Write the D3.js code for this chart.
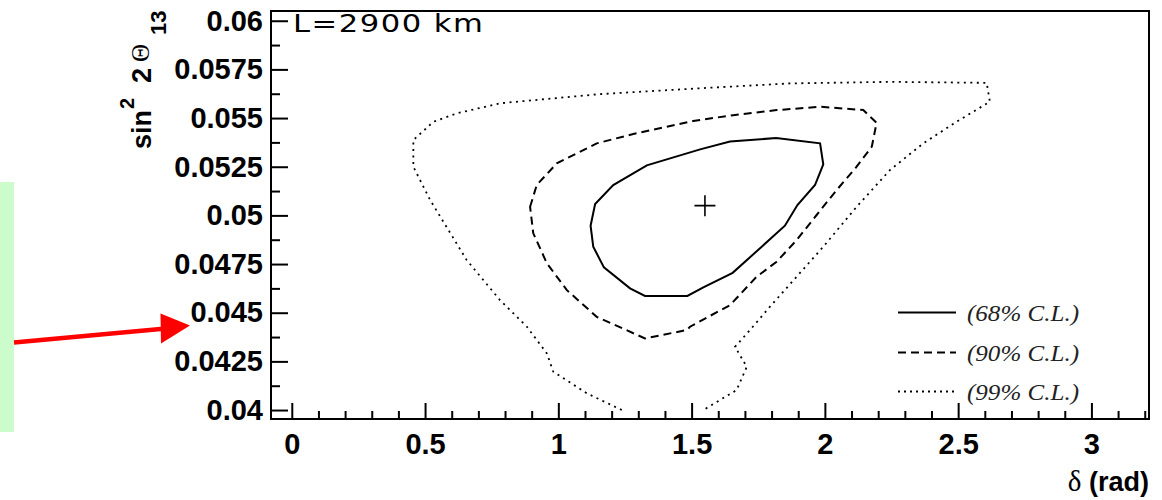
<!DOCTYPE html>
<html><head><meta charset="utf-8">
<script src="https://cdn.jsdelivr.net/npm/d3@7"></script>
<style>body{margin:0;background:#fff}svg{display:block}</style>
</head><body>
<svg id="c" width="1162" height="500"></svg>
<script>
// ---- data ----
const xTickValues = [0, 0.5, 1, 1.5, 2, 2.5, 3];
const xTickLabels = ["0", "0.5", "1", "1.5", "2", "2.5", "3"];
const xMinorValues = [0.1,0.2,0.3,0.4,0.6,0.7,0.8,0.9,1.1,1.2,1.3,1.4,1.6,1.7,1.8,1.9,2.1,2.2,2.3,2.4,2.6,2.7,2.8,2.9,3.1,3.2];
const yTickLabels = ["0.04","0.0425","0.045","0.0475","0.05","0.0525","0.055","0.0575","0.06"];
const yMinorLabels = ["0.04125","0.04375","0.04625","0.04875","0.05125","0.05375","0.05625","0.05875"];

const contour68 = [[1.121,0.04947],[1.138,0.05058],[1.206,0.05156],[1.332,0.05257],[1.532,0.05339],[1.644,0.05380],[1.817,0.05397],[1.982,0.05370],[1.994,0.05262],[1.963,0.05156],[1.897,0.05053],[1.850,0.04947],[1.763,0.04839],[1.654,0.04705],[1.544,0.04630],[1.484,0.04586],[1.325,0.04586],[1.269,0.04625],[1.171,0.04733],[1.131,0.04839]];
const contour90 = [[0.894,0.05044],[0.919,0.05156],[0.994,0.05267],[1.144,0.05370],[1.281,0.05418],[1.506,0.05485],[1.656,0.05515],[1.819,0.05541],[1.982,0.05558],[2.144,0.05541],[2.194,0.05476],[2.176,0.05353],[2.119,0.05250],[2.044,0.05130],[1.969,0.05002],[1.894,0.04873],[1.819,0.04762],[1.744,0.04685],[1.644,0.04539],[1.494,0.04428],[1.482,0.04411],[1.325,0.04368],[1.144,0.04479],[1.032,0.04616],[0.957,0.04754],[0.906,0.04908]];
const contour99 = [[1.238,0.04000],[1.107,0.04086],[0.981,0.04197],[0.957,0.04291],[0.882,0.04428],[0.781,0.04565],[0.656,0.04771],[0.519,0.05079],[0.456,0.05250],[0.456,0.05387],[0.531,0.05481],[0.619,0.05524],[0.781,0.05576],[1.156,0.05623],[1.532,0.05653],[1.869,0.05678],[2.244,0.05686],[2.607,0.05681],[2.619,0.05584],[2.494,0.05481],[2.369,0.05370],[2.244,0.05233],[2.119,0.05044],[1.994,0.04839],[1.894,0.04685],[1.794,0.04531],[1.719,0.04411],[1.663,0.04325],[1.707,0.04222],[1.669,0.04103],[1.544,0.04000]];
const bestFit = [1.55, 0.0505];
const legendLabels = ["(68% C.L.)", "(90% C.L.)", "(99% C.L.)"];

// ---- drawing ----
const svg = d3.select("#c");
const L = 271, R = 1149, T = 11, B = 419;
const x = d3.scaleLinear().domain([-0.078, 3.216]).range([L, R]);
const y = d3.scaleLinear().domain([0.03954, 0.0605]).range([B, T]);
const sans = "'Liberation Sans', Arial, Helvetica, sans-serif";

// annotation box and arrow
svg.append("rect").attr("x", 0).attr("y", 182).attr("width", 14).attr("height", 250).attr("fill", "#ccfccc");
svg.append("line").attr("x1", 14).attr("y1", 342.5).attr("x2", 166).attr("y2", 328.5)
  .attr("stroke", "#ff0000").attr("stroke-width", 4.5);
svg.append("path").attr("d", "M190,325.5 L160.5,313.5 L161,343.5 Z").attr("fill", "#ff0000");

// axes
const xAxis = svg.append("g").attr("transform", `translate(0,${B})`)
  .call(d3.axisBottom(x).tickValues(xTickValues).tickSize(-16).tickPadding(14)
    .tickFormat((d, i) => xTickLabels[i]));
const xMinor = svg.append("g").attr("transform", `translate(0,${B})`)
  .call(d3.axisBottom(x).tickValues(xMinorValues).tickSize(-8).tickFormat(""));
const yVals = yTickLabels.map(Number);
const yAxis = svg.append("g").attr("transform", `translate(${L},0)`)
  .call(d3.axisLeft(y).tickValues(yVals).tickSize(-17).tickPadding(8)
    .tickFormat((d, i) => yTickLabels[i]));
const yMinor = svg.append("g").attr("transform", `translate(${L},0)`)
  .call(d3.axisLeft(y).tickValues(yMinorLabels.map(Number)).tickSize(-9).tickFormat(""));
[xAxis, xMinor, yAxis, yMinor].forEach(g => {
  g.select(".domain").remove();
  g.selectAll(".tick line").attr("stroke", "#000").attr("stroke-width", 2);
  g.selectAll("text").attr("fill", "#000").attr("font-family", sans)
    .attr("font-weight", "bold").attr("font-size", 29);
});

// frame
svg.append("rect").attr("x", L).attr("y", T).attr("width", R - L).attr("height", B - T)
  .attr("fill", "none").attr("stroke", "#000").attr("stroke-width", 2);

// contours
const line = d3.line().x(d => x(d[0])).y(d => y(d[1]));
const lineClosed = d3.line().x(d => x(d[0])).y(d => y(d[1])).curve(d3.curveLinearClosed);
svg.append("path").attr("d", lineClosed(contour68)).attr("fill", "none")
  .attr("stroke", "#000").attr("stroke-width", 2);
svg.append("path").attr("d", lineClosed(contour90)).attr("fill", "none")
  .attr("stroke", "#000").attr("stroke-width", 2).attr("stroke-dasharray", "8,5");
svg.append("path").attr("d", line(contour99)).attr("fill", "none")
  .attr("stroke", "#000").attr("stroke-width", 1.8).attr("stroke-dasharray", "2,4.5");

// best fit marker
const bx = x(bestFit[0]), by = y(bestFit[1]);
svg.append("path").attr("d", `M${bx-10.5},${by}H${bx+10.5}M${bx},${by-10.5}V${by+10.5}`)
  .attr("stroke", "#000").attr("stroke-width", 1.6);

// label L=2900 km
svg.append("text").attr("transform", "translate(293,32) scale(1.25,1)")
  .attr("font-family", "'DejaVu Sans', sans-serif").attr("font-size", 24.5)
  .attr("letter-spacing", 1.2).attr("fill", "#000").text("L=2900 km");

// legend
const dashes = [null, "8,5", "2,4"];
const legY = [312.5, 352.5, 391.5];
legendLabels.forEach((t, i) => {
  svg.append("line").attr("x1", 898).attr("x2", 956).attr("y1", legY[i]).attr("y2", legY[i])
    .attr("stroke", "#000").attr("stroke-width", i === 2 ? 1.8 : 2)
    .attr("stroke-dasharray", dashes[i]);
  svg.append("text").attr("x", 967).attr("y", legY[i] + 8)
    .attr("font-family", "'Liberation Serif', 'Times New Roman', serif")
    .attr("font-style", "italic").attr("font-size", 23).attr("textLength", 112)
    .attr("lengthAdjust", "spacingAndGlyphs").attr("fill", "#222").text(t);
});

// axis titles
const xt = svg.append("text").attr("x", 1149).attr("y", 491).attr("text-anchor", "end")
  .attr("font-family", sans).attr("font-weight", "bold").attr("font-size", 27).attr("fill", "#000");
xt.append("tspan").attr("font-family", "'Liberation Serif', serif").attr("font-weight", "normal")
  .attr("font-size", 29).text("δ");
xt.append("tspan").text(" (rad)");

const yt = svg.append("text").attr("transform", "translate(151,149) rotate(-90)")
  .attr("font-family", sans).attr("font-weight", "bold").attr("fill", "#000");
yt.append("tspan").attr("x", 0).attr("y", 0).attr("font-size", 27).text("sin");
yt.append("tspan").attr("x", 40).attr("y", -17).attr("font-size", 20).text("2");
yt.append("tspan").attr("x", 66).attr("y", 0).attr("font-size", 27).text("2");
yt.append("tspan").attr("x", 87).attr("y", -2).attr("font-size", 25).attr("font-weight", "normal")
  .attr("font-family", "'Liberation Serif', serif").text("Θ");
yt.append("tspan").attr("x", 114).attr("y", 15).attr("font-size", 22).text("13");
</script>
</body></html>
